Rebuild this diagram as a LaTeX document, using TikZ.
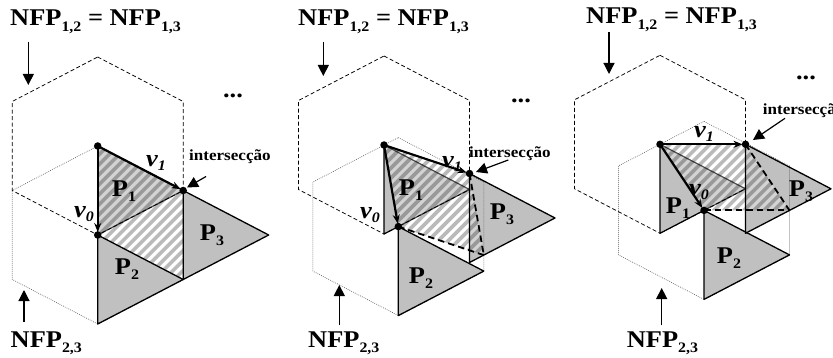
\documentclass[tikz,border=0pt]{standalone}
\usepackage{fontspec}
\setmainfont{Liberation Serif}
\usetikzlibrary{arrows.meta,calc}
\definecolor{pgray}{RGB}{192,192,192}
\newcommand\sx[1]{\scalebox{1.1}[1]{#1}}
\newcommand\bigf{\fontsize{24}{26}\selectfont\bfseries}
\newcommand\subf{\fontsize{14.5}{16}\selectfont\bfseries}
\newcommand\nfp[1]{NFP\raisebox{-5.5pt}{\subf #1}}
\newcommand\pl[1]{\sx{P\raisebox{-5.5pt}{\subf #1}}}
\newcommand\vl[1]{\sx{\textit{v}\raisebox{-4.5pt}{\subf\itshape #1}}}
\newcommand\triA{85.5}
\newcommand\triH{44.5}
\tikzset{
  big/.style={font=\bigf, inner sep=0pt},
  small/.style={font=\fontsize{15.5}{17}\selectfont\bfseries, inner sep=0pt},
  triout/.style={draw=black, line width=1.3pt, line join=round},
  p1out/.style={draw=black, line width=1.2pt, line join=round},
  nfpa/.style={draw=black, line width=0.75pt, dash pattern=on 4pt off 2.5pt},
  nfpb/.style={draw=black!65, line width=0.6pt, dash pattern=on 0.8pt off 1.2pt},
  thdash/.style={draw=black, line width=1.8pt, dash pattern=on 6.5pt off 4pt},
  stripe/.style={draw=black, opacity=0.27, line width=3.6pt},
  vec/.style={line width=2.2pt, -{Stealth[length=9pt,width=7pt]}, shorten >=3pt},
  larrow/.style={line width=1.2pt, -{Triangle[length=11pt,width=11pt]}},
  dot/.style={circle, fill=black, inner sep=0pt, minimum size=7.5pt}
}
% #1 prefix, #2 #3 origin, #4 #5 v0, #6 #7 v1, #8 draw thick dashed (1/0)
\newcommand\panel[8]{%
\begin{scope}[shift={(#2,#3)}]
  \coordinate (#1O) at (0,0);
  \coordinate (#1B) at (#4,#5);
  \coordinate (#1A) at (#6,#7);
  \coordinate (#1C) at ($(#1A)+(#4,#5)$);
  \fill[pgray] (#1O) -- ++(\triA,\triH) -- ++(-\triA,\triH) -- cycle;
  \fill[pgray] (#1B) -- ++(\triA,\triH) -- ++(-\triA,\triH) -- cycle;
  \fill[pgray] (#1A) -- ++(\triA,\triH) -- ++(-\triA,\triH) -- cycle;
  \draw[p1out] (#1O) -- ++(\triA,\triH) -- ++(-\triA,\triH) -- cycle;
  \begin{scope}
    \clip (#1O) -- (#1A) -- (#1C) -- (#1B) -- cycle;
    \fill[white, opacity=0.3] (-20,-20) rectangle (220,300);
    \foreach \k in {-330,-320,...,-50} \draw[stripe] (\k,300) -- ++(310,-310);
  \end{scope}
  \draw[nfpb] ($(#1B)+(0,-2*\triH)$) -- ++(\triA,\triH) -- ++(0,2*\triH) -- ++(-\triA,\triH)
     -- ++(-\triA,-\triH) -- ++(0,-2*\triH) -- cycle;
  \draw[nfpa] (0,-2*\triH) -- (\triA,-\triH) -- (\triA,\triH) -- (0,2*\triH) -- (-\triA,\triH)
     -- (-\triA,-\triH) -- cycle;
  \draw[triout] (#1B) -- ++(\triA,\triH) -- ++(-\triA,\triH) -- cycle;
  \draw[triout] (#1A) -- ++(\triA,\triH) -- ++(-\triA,\triH) -- cycle;
  \ifnum#8=1
    \draw[thdash] (#1A) -- (#1C);
    \draw[thdash] (#1B) -- (#1C);
  \fi
  \draw[vec] (#1O) -- (#1B);
  \draw[vec] (#1O) -- (#1A);
  \node[dot] (#1dO) at (#1O) {};
  \node[dot] (#1dA) at (#1A) {};
  \node[dot] (#1dB) at (#1B) {};
\end{scope}}
\begin{document}
\begin{tikzpicture}[x=1pt,y=-1pt]
\useasboundingbox (0,0) rectangle (833,358);
\fill[white] (0,0) rectangle (833,358);

\panel{a}{97.7}{146}{0}{89}{85.5}{44.5}{0}
\panel{b}{384}{145}{14.3}{81.6}{85.5}{28.5}{1}
\panel{c}{660}{144.3}{44}{66.1}{85.5}{0}{1}

% panel 1 labels
\node[big] (av1) at (156,163) {\vl{1}};
\node[big] (av0) at (84,214) {\vl{0}};
\node[big] (aP1) at (124,191) {\pl{1}};
\node[big] (aP2) at (127,269) {\pl{2}};
\node[big] (aP3) at (212,235) {\pl{3}};
\node[big] (adots) at (233,96) {\sx{...}};
\node[small, anchor=base west] (aint) at (189,161) {\sx{intersecção}};
\coordinate (aintT) at (206,176.5);
\coordinate (aintH) at (187,187.5);
\draw[larrow] (aintT) -- (aintH);
\node[big, anchor=base west] (atop) at (10,26) {\sx{\nfp{1,2} = \nfp{1,3}}};
\coordinate (atopT) at (28.3,41.7);
\coordinate (atopH) at (28.3,85);
\draw[larrow] (atopT) -- (atopH);
\node[big, anchor=base west] (abot) at (10.5,347) {\sx{\nfp{2,3}}};
\coordinate (abotT) at (24,322);
\coordinate (abotH) at (24,290);
\draw[larrow] (abotT) -- (abotH);

% panel 2 labels
\node[big] (bv1) at (452,164) {\vl{1}};
\node[big] (bv0) at (370,215) {\vl{0}};
\node[big] (bP1) at (411,190) {\pl{1}};
\node[big] (bP2) at (421,278) {\pl{2}};
\node[big] (bP3) at (502,214) {\pl{3}};
\node[big] (bdots) at (521,101) {\sx{...}};
\node[small, anchor=base west] (bint) at (469,158) {\sx{intersecção}};
\coordinate (bintT) at (508.3,160);
\coordinate (bintH) at (476,172);
\draw[larrow] (bintT) -- (bintH);
\node[big, anchor=base west] (btop) at (298,26) {\sx{\nfp{1,2} = \nfp{1,3}}};
\coordinate (btopT) at (323.3,42);
\coordinate (btopH) at (323.3,76);
\draw[larrow] (btopT) -- (btopH);
\node[big, anchor=base west] (bbot) at (308,347) {\sx{\nfp{2,3}}};
\coordinate (bbotT) at (339.3,325);
\coordinate (bbotH) at (339.3,285);
\draw[larrow] (bbotT) -- (bbotH);

% panel 3 labels
\node[big] (cv1) at (704,134) {\vl{1}};
\node[big] (cv0) at (699,192) {\vl{0}};
\node[big] (cP1) at (678,208) {\pl{1}};
\node[big] (cP2) at (729,258) {\pl{2}};
\node[big] (cP3) at (801,191) {\pl{3}};
\node[big] (cdots) at (806,78) {\sx{...}};
\node[small, anchor=base west] (cint) at (762.7,115) {\sx{intersecção}};
\coordinate (cintT) at (785,118.3);
\coordinate (cintH) at (753,140);
\draw[larrow] (cintT) -- (cintH);
\node[big, anchor=base west] (ctop) at (586,24) {\sx{\nfp{1,2} = \nfp{1,3}}};
\coordinate (ctopT) at (609,32);
\coordinate (ctopH) at (609,74);
\draw[larrow] (ctopT) -- (ctopH);
\node[big, anchor=base west] (cbot) at (626.7,347) {\sx{\nfp{2,3}}};
\coordinate (cbotT) at (661.7,325);
\coordinate (cbotH) at (661.7,288);
\draw[larrow] (cbotT) -- (cbotH);
\end{tikzpicture}
\end{document}
